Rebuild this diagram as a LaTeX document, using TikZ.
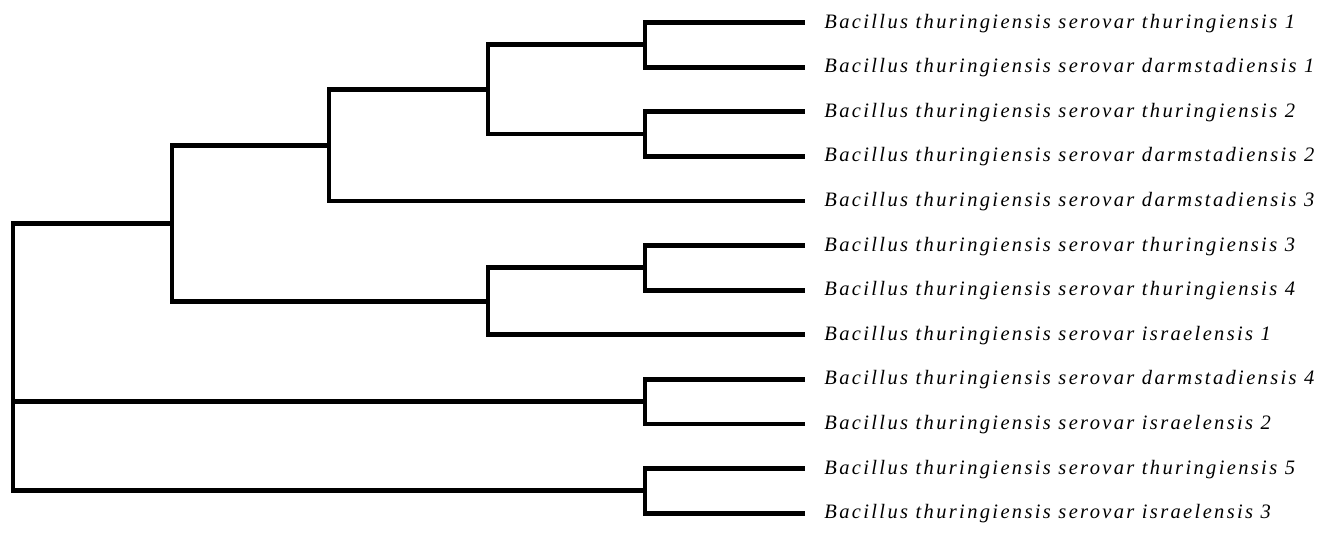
\documentclass[tikz,border=0pt]{standalone}
\usepackage{fontspec}
\setmainfont{Liberation Serif}
\begin{document}
\begin{tikzpicture}[x=1pt,y=-1pt,line width=4.8pt,
        leaf/.style={anchor=west,inner xsep=17pt,inner ysep=0pt,text height=11pt,text depth=0pt,
            font=\fontsize{20.5}{20.5}\selectfont\itshape\addfontfeatures{LetterSpace=11.5}}]
        \useasboundingbox(0,0)rectangle(1323,554);
        % leaves
        \node[leaf](bt1)at(805,22.5){Bacillus thuringiensis serovar thuringiensis 1};
        \node[leaf](bd1)at(805,67.1){Bacillus thuringiensis serovar darmstadiensis 1};
        \node[leaf](bt2)at(805,111.7){Bacillus thuringiensis serovar thuringiensis 2};
        \node[leaf](bd2)at(805,156.3){Bacillus thuringiensis serovar darmstadiensis 2};
        \node[leaf](bd3)at(805,200.9){Bacillus thuringiensis serovar darmstadiensis 3};
        \node[leaf](bt3)at(805,245.5){Bacillus thuringiensis serovar thuringiensis 3};
        \node[leaf](bt4)at(805,290.1){Bacillus thuringiensis serovar thuringiensis 4};
        \node[leaf](bi1)at(805,334.7){Bacillus thuringiensis serovar israelensis 1};
        \node[leaf](bd4)at(805,379.3){Bacillus thuringiensis serovar darmstadiensis 4};
        \node[leaf](bi2)at(805,423.9){Bacillus thuringiensis serovar israelensis 2};
        \node[leaf](bt5)at(805,468.5){Bacillus thuringiensis serovar thuringiensis 5};
        \node[leaf](bi3)at(805,513.1){Bacillus thuringiensis serovar israelensis 3};
        % joins
        \coordinate(n1)at(645,44.8);
        \coordinate(n2)at(645,134);
        \coordinate(n3)at(488,89.4);
        \coordinate(n4)at(329,145.15);
        \coordinate(n5)at(645,267.8);
        \coordinate(n6)at(488,301.25);
        \coordinate(n7)at(172,223.2);
        \coordinate(n8)at(645,401.6);
        \coordinate(n9)at(645,490.8);
        \coordinate(root)at(13,401.6);
        \draw(n1)|-(bt1.west);
        \draw(n1)|-(bd1.west);
        \draw(n2)|-(bt2.west);
        \draw(n2)|-(bd2.west);
        \draw(n3)|-(n1);
        \draw(n3)|-(n2);
        \draw(n4)|-(n3);
        \draw(n4)|-(bd3.west);
        \draw(n5)|-(bt3.west);
        \draw(n5)|-(bt4.west);
        \draw(n6)|-(n5);
        \draw(n6)|-(bi1.west);
        \draw(n7)|-(n4);
        \draw(n7)|-(n6);
        \draw(n8)|-(bd4.west);
        \draw(n8)|-(bi2.west);
        \draw(n9)|-(bt5.west);
        \draw(n9)|-(bi3.west);
        \draw(root)|-(n7);
        \draw(root)|-(n8);
        \draw(root)|-(n9);
    \end{tikzpicture}
\end{document}
